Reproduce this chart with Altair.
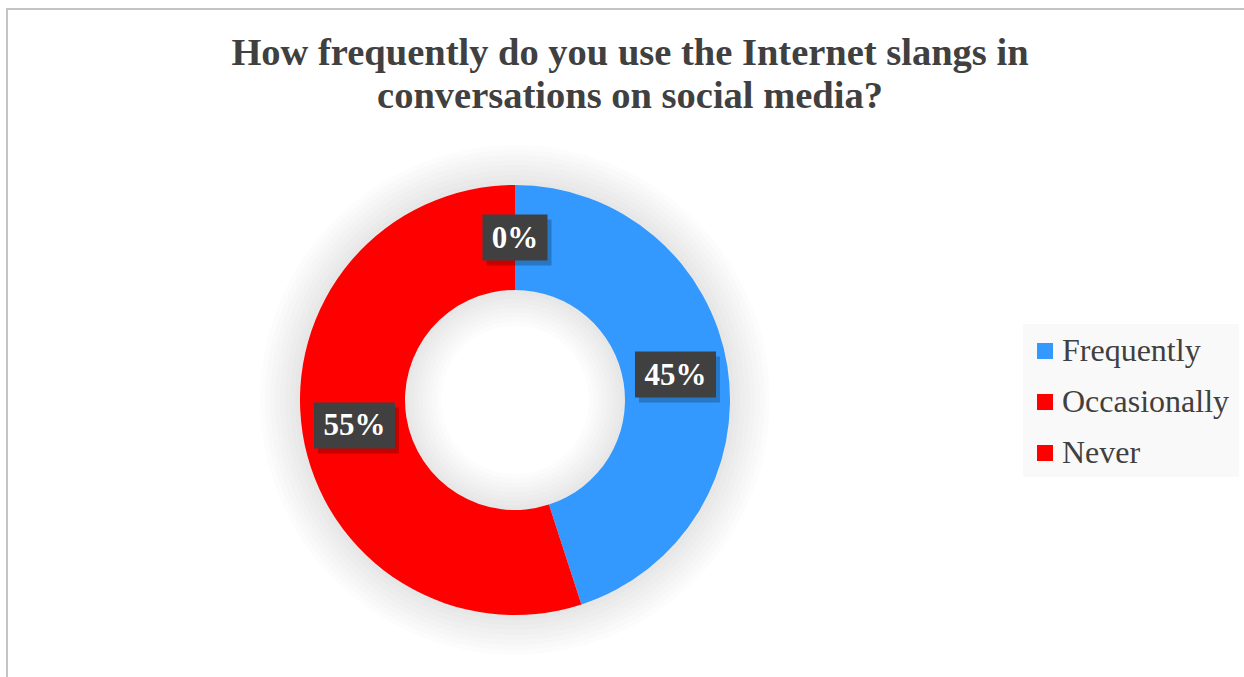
import math
import altair as alt
import pandas as pd

# ---- data ----
categories = ["Frequently", "Occasionally", "Never"]
values = [45, 55, 0]
labels = ["45%", "55%", "0%"]
colors = ["#3399FF", "#FF0000", "#FF0000"]
title_lines = ["How frequently do you use the Internet slangs in",
               "conversations on social media?"]

W, H = 1244, 677
CX, CY = 515, 400
R_OUT, R_IN = 215, 110
R_LAB = (R_OUT + R_IN) / 2
SERIF = "Liberation Serif"

data = pd.DataFrame({"category": categories, "value": values,
                     "label": labels, "order": list(range(len(categories)))})
one = pd.DataFrame({"a": [0]})

base = alt.Chart(data)

color = alt.Color(
    "category:N",
    sort=categories,
    scale=alt.Scale(domain=categories, range=colors),
    legend=alt.Legend(
        title=None, orient="none", legendX=1018, legendY=324,
        padding=11, symbolType="square",
        symbolSize=256, symbolStrokeWidth=0, symbolOpacity=1,
        labelFont=SERIF, labelFontSize=32, labelColor="#404040",
        labelLimit=400, rowPadding=19, labelOffset=1,
    ),
)

legend_bg = alt.Chart(one).mark_rect(color="#F9F9F9").encode(
    x=alt.value(1023), x2=alt.value(1239), y=alt.value(324), y2=alt.value(477)
)

# soft glow around the ring (outer and inner)
glow = []
n = 8
for k in range(n):
    glow.append(
        alt.Chart(one).mark_arc(
            radius=R_OUT + 5 * (k + 1), radius2=R_OUT - 2,
            theta=0, theta2=2 * math.pi, color="#000000", opacity=0.012,
        ).encode(x=alt.value(CX), y=alt.value(CY))
    )
    glow.append(
        alt.Chart(one).mark_arc(
            radius=R_IN + 2, radius2=max(R_IN - 4.5 * (k + 1), 0),
            theta=0, theta2=2 * math.pi, color="#000000", opacity=0.011,
        ).encode(x=alt.value(CX), y=alt.value(CY))
    )

arcs = base.mark_arc(radius=R_OUT, radius2=R_IN).encode(
    theta=alt.Theta("value:Q", stack=True),
    order=alt.Order("order:Q"),
    color=color,
    x=alt.value(CX), y=alt.value(CY),
)

lab = base.transform_window(
    cum="sum(value)", sort=[alt.SortField("order", order="ascending")],
    frame=[None, 0],
).transform_joinaggregate(total="sum(value)").transform_calculate(
    ang="2*PI*(datum.cum - datum.value/2)/datum.total",
).transform_calculate(
    lx=f"{CX} + {R_LAB}*sin(datum.ang)",
    ly=f"{CY} - {R_LAB}*cos(datum.ang)",
    w="33 + 16*length(datum.label)",
).transform_calculate(
    bx1="datum.lx - datum.w/2", bx2="datum.lx + datum.w/2",
    by1="datum.ly - 23", by2="datum.ly + 23",
    sx1="datum.lx - datum.w/2 + 4", sx2="datum.lx + datum.w/2 + 4",
    sy1="datum.ly - 23 + 5", sy2="datum.ly + 23 + 5",
)

box_shadow = lab.mark_rect(color="#000000", opacity=0.22).encode(
    x=alt.X("sx1:Q", scale=None, axis=None), x2="sx2:Q",
    y=alt.Y("sy1:Q", scale=None, axis=None), y2="sy2:Q",
)
boxes = lab.mark_rect(color="#404040").encode(
    x=alt.X("bx1:Q", scale=None, axis=None), x2="bx2:Q",
    y=alt.Y("by1:Q", scale=None, axis=None), y2="by2:Q",
)
texts = lab.mark_text(
    font=SERIF, fontWeight="bold", fontSize=31, color="#FFFFFF",
    baseline="middle", align="center", dy=1,
).encode(
    x=alt.X("lx:Q", scale=None, axis=None),
    y=alt.Y("ly:Q", scale=None, axis=None),
    text="label:N",
)

title = alt.Chart(one).mark_text(
    text=title_lines, font=SERIF, fontWeight="bold", fontSize=38.5,
    color="#404040", align="center", baseline="alphabetic", lineHeight=43,
).encode(x=alt.value(630), y=alt.value(65))

border = alt.Chart(one).mark_rect(
    fillOpacity=0, stroke="#C4C4C4", strokeWidth=2,
).encode(x=alt.value(7), y=alt.value(9), x2=alt.value(1300), y2=alt.value(760))

chart = alt.layer(
    border, legend_bg, *glow, arcs, box_shadow, boxes, texts, title,
).properties(
    width=W, height=H, autosize="none", padding=0, background="#FFFFFF",
).configure_view(stroke="transparent")

chart.save("out.html", embed_options={"renderer": "svg", "actions": False})
